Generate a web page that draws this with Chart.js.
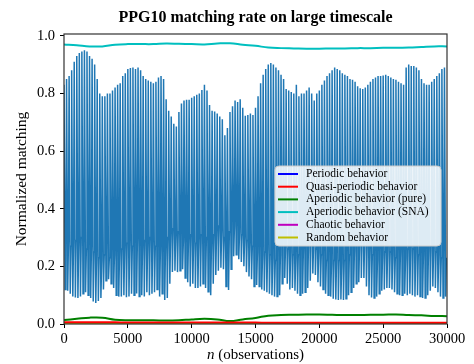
<!DOCTYPE html>
<html>
<head>
<meta charset="utf-8">
<script src="https://cdn.jsdelivr.net/npm/chart.js@4.4.0/dist/chart.umd.min.js"></script>
<style>
    html, body { margin: 0; padding: 0; background: #fff; }
</style>
</head>
<body>
<canvas id="grafico" width="474" height="364"></canvas>
<script>
// Eixos
const xTicks = [0, 5000, 10000, 15000, 20000, 25000, 30000];
const yTicks = [0, 0.2, 0.4, 0.6, 0.8, 1.0];
const cycleLen = 200; // observações por ciclo do sinal PPG

// Sinal PPG10: picos, vales e patamar intermediário de cada ciclo
const peaks = [
    .83, .85, .86, .88, .91, .93, .94, .945, .95, .945,
    .93, .92, .90, .85, .80, .79, .79, .80, .80, .81,
    .82, .83, .835, .86, .87, .885, .888, .89, .885, .89,
    .88, .86, .85, .845, .84, .835, .84, .855, .86, .85,
    .78, .74, .72, .695, .685, .735, .765, .775, .778, .778,
    .785, .79, .795, .80, .812, .83, .81, .76, .74, .737,
    .73, .72, .71, .655, .68, .735, .755, .775, .77, .78,
    .75, .722, .725, .73, .725, .75, .79, .835, .865, .885,
    .90, .905, .90, .89, .88, .865, .85, .815, .81, .805,
    .80, .83, .79, .80, .80, .81, .82, .80, .775, .80,
    .81, .83, .845, .86, .87, .88, .89, .885, .88, .87,
    .865, .86, .85, .847, .84, .825, .818, .815, .82, .83,
    .84, .85, .855, .86, .86, .862, .865, .86, .855, .85,
    .847, .84, .835, .83, .89, .90, .895, .895, .89, .88,
    .85, .835, .83, .83, .84, .85, .86, .87, .885, .89
];
const troughs = [
    .12, .115, .105, .095, .092, .09, .095, .105, .11, .10,
    .09, .078, .073, .08, .09, .12, .15, .155, .14, .125,
    .10, .095, .095, .10, .093, .095, .105, .10, .106, .095,
    .10, .095, .11, .10, .105, .11, .12, .095, .105, .083,
    .09, .14, .18, .185, .18, .185, .19, .16, .145, .13,
    .14, .125, .125, .13, .14, .125, .112, .10, .14, .17,
    .185, .195, .19, .13, .118, .19, .235, .24, .225, .215,
    .20, .18, .165, .155, .13, .135, .13, .12, .115, .11,
    .105, .10, .095, .095, .10, .14, .16, .14, .12, .125,
    .115, .105, .10, .105, .11, .125, .15, .175, .17, .145,
    .13, .12, .105, .10, .095, .088, .085, .083, .085, .083,
    .088, .10, .11, .125, .14, .145, .16, .16, .13, .10,
    .092, .09, .095, .105, .115, .12, .125, .125, .12, .11,
    .105, .10, .10, .105, .10, .105, .10, .095, .10, .095,
    .09, .09, .10, .115, .13, .125, .11, .095, .09, .095
];
const mids = [
    .28, .29, .27, .30, .29, .28, .30, .27, .26, .28,
    .27, .25, .24, .23, .22, .24, .25, .23, .22, .24,
    .23, .25, .26, .27, .28, .29, .27, .28, .30, .28,
    .27, .29, .28, .30, .29, .27, .28, .26, .25, .27,
    .30, .32, .33, .31, .32, .30, .29, .28, .30, .31,
    .29, .28, .30, .31, .32, .30, .29, .28, .31, .33,
    .34, .33, .30, .28, .32, .35, .34, .33, .32, .31,
    .30, .29, .28, .27, .26, .25, .25, .24, .25, .26,
    .24, .23, .22, .23, .24, .26, .27, .26, .25, .24,
    .23, .24, .25, .26, .27, .28, .29, .28, .26, .25,
    .24, .23, .22, .22, .21, .22, .23, .22, .21, .22,
    .23, .24, .25, .26, .27, .28, .29, .30, .28, .26,
    .24, .23, .22, .23, .24, .25, .26, .25, .24, .23,
    .24, .25, .24, .23, .26, .27, .26, .25, .24, .23,
    .24, .25, .26, .27, .26, .25, .24, .23, .22, .23
];

// Taxas de casamento por comportamento (a cada 1000 observações)
const obsGrid = [
    0, 1000, 2000, 3000, 4000, 5000, 6000, 7000, 8000, 9000, 10000,
    11000, 12000, 13000, 14000, 15000, 16000, 17000, 18000, 19000, 20000,
    21000, 22000, 23000, 24000, 25000, 26000, 27000, 28000, 29000, 30000
];
const periodic = [
    0, 0, 0, 0, 0, 0, 0, 0, 0, 0, 0, 0, 0, 0, 0, 0,
    0, 0, 0, 0, 0, 0, 0, 0, 0, 0, 0, 0, 0, 0, 0
];
const quasiPeriodic = [
    .006, .006, .006, .006, .006, .005, .005, .005, .005, .005, .005,
    .005, .005, .005, .005, .005, .004, .004, .004, .004, .004,
    .004, .004, .004, .004, .004, .004, .004, .004, .004, .004
];
const aperiodicPure = [
    .014, .018, .022, .022, .015, .013, .013, .013, .012, .013, .016,
    .018, .016, .010, .016, .021, .029, .031, .032, .033, .033,
    .032, .031, .031, .032, .032, .033, .031, .030, .028, .027
];
const aperiodicSNA = [
    .970, .967, .963, .963, .969, .971, .971, .971, .973, .972, .971,
    .970, .973, .974, .969, .965, .959, .957, .956, .955, .955,
    .956, .956, .957, .957, .958, .958, .959, .961, .963, .963
];
const chaotic = [
    0, 0, 0, 0, 0, 0, 0, 0, 0, 0, 0, 0, 0, 0, 0, 0,
    0, 0, 0, 0, 0, 0, 0, 0, 0, 0, 0, 0, 0, 0, 0
];
const random = [
    0, 0, 0, 0, 0, 0, 0, 0, 0, 0, 0, 0, 0, 0, 0, 0,
    0, 0, 0, 0, 0, 0, 0, 0, 0, 0, 0, 0, 0, 0, 0
];

const behaviors = [
    { label: 'Periodic behavior', data: periodic, color: '#0000ff' },
    { label: 'Quasi-periodic behavior', data: quasiPeriodic, color: '#ff0000' },
    { label: 'Aperiodic behavior (pure)', data: aperiodicPure, color: '#008000' },
    { label: 'Aperiodic behavior (SNA)', data: aperiodicSNA, color: '#00bfbf' },
    { label: 'Chaotic behavior', data: chaotic, color: '#bf00bf' },
    { label: 'Random behavior', data: random, color: '#bfbf00' }
];

// Monta o sinal em zigue-zague
const signal = [];
peaks.forEach((p, i) => {
    signal.push({ x: i * cycleLen, y: p });
    signal.push({ x: i * cycleLen + 90, y: troughs[i] });
    signal.push({ x: i * cycleLen + 150, y: mids[i] });
});

const serif = "'Liberation Serif', 'DejaVu Serif', serif";

// Título, moldura, legenda e rótulo do eixo x
const extras = {
    id: 'extras',
    afterDatasetsDraw(chart) {
        const { ctx, chartArea: a } = chart;
        ctx.save();
        ctx.strokeStyle = '#333';
        ctx.lineWidth = 1.2;
        ctx.strokeRect(a.left, a.top, a.right - a.left, a.bottom - a.top);
        ctx.restore();
    },
    afterDraw(chart) {
        const { ctx, chartArea: a } = chart;
        const cx = (a.left + a.right) / 2;
        ctx.save();
        // título centrado na área do gráfico
        ctx.fillStyle = '#000';
        ctx.font = 'bold 16px ' + serif;
        ctx.textAlign = 'center';
        ctx.textBaseline = 'middle';
        ctx.fillText('PPG10 matching rate on large timescale', cx, 18);
        ctx.textAlign = 'left';
        // legenda
        const lx = a.left + 211, ly = a.top + 132, lw = 166, lh = 80;
        ctx.beginPath();
        ctx.roundRect(lx, ly, lw, lh, 4);
        ctx.fillStyle = 'rgba(255,255,255,0.85)';
        ctx.fill();
        ctx.strokeStyle = '#cccccc';
        ctx.lineWidth = 1;
        ctx.stroke();
        ctx.font = '11.5px ' + serif;
        behaviors.forEach((b, i) => {
            const y = ly + 8 + i * 12.7;
            ctx.strokeStyle = b.color;
            ctx.lineWidth = 2;
            ctx.beginPath();
            ctx.moveTo(lx + 3, y);
            ctx.lineTo(lx + 23, y);
            ctx.stroke();
            ctx.fillStyle = '#000';
            ctx.fillText(b.label, lx + 31, y);
        });
        // rótulo x com n em itálico
        ctx.font = 'italic 15px ' + serif;
        const w1 = ctx.measureText('n').width;
        ctx.font = '15px ' + serif;
        const rest = ' (observations)';
        const w2 = ctx.measureText(rest).width;
        const x0 = cx - (w1 + w2) / 2;
        const y0 = 355;
        ctx.fillStyle = '#000';
        ctx.font = 'italic 15px ' + serif;
        ctx.fillText('n', x0, y0);
        ctx.font = '15px ' + serif;
        ctx.fillText(rest, x0 + w1, y0);
        ctx.restore();
    }
};

const datasets = [{
    label: 'PPG10',
    data: signal,
    borderColor: '#1f77b4',
    borderWidth: 1.5,
    pointRadius: 0,
    fill: false,
    order: 10
}].concat(behaviors.map((b, i) => ({
    label: b.label,
    data: obsGrid.map((x, k) => ({ x: x, y: b.data[k] })),
    borderColor: b.color,
    borderWidth: 2,
    pointRadius: 0,
    tension: 0.4,
    fill: false,
    order: b.data === quasiPeriodic ? 1 : 6 - i
})));

new Chart(document.getElementById('grafico'), {
    type: 'line',
    data: { datasets },
    options: {
        responsive: false,
        animation: false,
        layout: { padding: { left: 0, right: 27, top: 34, bottom: 0 } },
        plugins: {
            legend: { display: false },
            tooltip: { enabled: false },
            title: { display: false }
        },
        scales: {
            x: {
                type: 'linear',
                min: 0,
                max: 30000,
                afterBuildTicks: s => { s.ticks = xTicks.map(v => ({ value: v })); },
                afterFit: s => { s.height = 40; },
                grid: { display: true, drawOnChartArea: false, drawTicks: true, tickLength: 4, color: '#000' },
                border: { display: false },
                ticks: {
                    color: '#000',
                    font: { family: serif, size: 14.5 },
                    padding: 2,
                    maxRotation: 0,
                    callback: v => String(v)
                }
            },
            y: {
                type: 'linear',
                min: 0,
                max: 1.006,
                afterBuildTicks: s => { s.ticks = yTicks.map(v => ({ value: v })); },
                afterFit: s => { s.width = 64; },
                grid: { display: true, drawOnChartArea: false, drawTicks: true, tickLength: 4, color: '#000' },
                border: { display: false },
                title: {
                    display: true,
                    text: 'Normalized matching',
                    color: '#000',
                    font: { family: serif, size: 15.5 },
                    padding: { top: 13, bottom: 0 }
                },
                ticks: {
                    color: '#000',
                    font: { family: serif, size: 14.5 },
                    padding: 5,
                    callback: v => Number(v).toFixed(1)
                }
            }
        }
    },
    plugins: [extras]
});
</script>
</body>
</html>
